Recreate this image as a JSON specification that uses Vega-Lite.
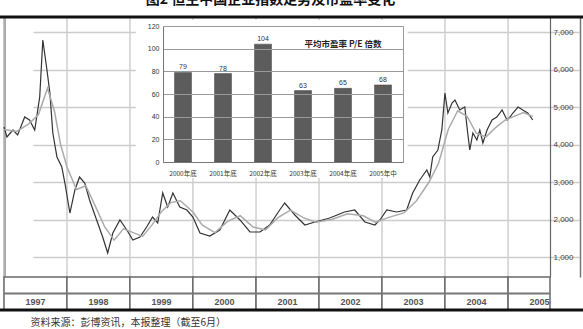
{
  "$schema": "https://vega.github.io/schema/vega-lite/v6.json",
  "width": 583,
  "height": 293,
  "autosize": {"type": "none"},
  "padding": {"left": 0, "top": 17, "right": 0, "bottom": 19},
  "background": "white",
  "config": {"view": {"stroke": null}, "font": "Liberation Sans", "axis": {"labelFont": "Liberation Sans"}},
  "datasets": {
    "index": [
      {"date": "1997-01-01", "value": 4467}, {"date": "1997-01-18", "value": 4200}, {"date": "1997-02-22", "value": 4387},
      {"date": "1997-03-21", "value": 4253}, {"date": "1997-05-01", "value": 4733}, {"date": "1997-05-29", "value": 4653},
      {"date": "1997-06-28", "value": 4387}, {"date": "1997-07-27", "value": 5267}, {"date": "1997-08-14", "value": 6787},
      {"date": "1997-09-07", "value": 5987}, {"date": "1997-09-24", "value": 5373}, {"date": "1997-10-11", "value": 4307},
      {"date": "1997-11-04", "value": 3667}, {"date": "1997-12-02", "value": 3400}, {"date": "1997-12-20", "value": 2973},
      {"date": "1998-01-18", "value": 2173}, {"date": "1998-02-16", "value": 2787}, {"date": "1998-03-15", "value": 3133},
      {"date": "1998-04-14", "value": 2973}, {"date": "1998-05-12", "value": 2520}, {"date": "1998-06-22", "value": 1987},
      {"date": "1998-07-27", "value": 1533}, {"date": "1998-08-25", "value": 1107}, {"date": "1998-09-24", "value": 1640},
      {"date": "1998-11-04", "value": 1987}, {"date": "1998-12-14", "value": 1720}, {"date": "1999-01-18", "value": 1453},
      {"date": "1999-02-28", "value": 1533}, {"date": "1999-04-08", "value": 1800}, {"date": "1999-05-12", "value": 2067},
      {"date": "1999-06-11", "value": 1907}, {"date": "1999-07-10", "value": 2707}, {"date": "1999-08-08", "value": 2333},
      {"date": "1999-09-07", "value": 2707}, {"date": "1999-10-17", "value": 2333}, {"date": "1999-11-27", "value": 2253},
      {"date": "2000-01-01", "value": 2067}, {"date": "2000-02-11", "value": 1640}, {"date": "2000-04-08", "value": 1560},
      {"date": "2000-06-05", "value": 1720}, {"date": "2000-08-02", "value": 2253}, {"date": "2000-09-30", "value": 1987},
      {"date": "2000-11-27", "value": 1667}, {"date": "2001-01-24", "value": 1667}, {"date": "2001-03-21", "value": 1853},
      {"date": "2001-05-18", "value": 2253}, {"date": "2001-06-16", "value": 2440}, {"date": "2001-08-14", "value": 2120},
      {"date": "2001-10-11", "value": 1853}, {"date": "2001-12-08", "value": 1933}, {"date": "2002-03-04", "value": 2040},
      {"date": "2002-05-29", "value": 2200}, {"date": "2002-07-27", "value": 2253}, {"date": "2002-09-24", "value": 1933},
      {"date": "2002-11-21", "value": 1853}, {"date": "2002-12-20", "value": 1987}, {"date": "2003-01-29", "value": 2253},
      {"date": "2003-03-27", "value": 2200}, {"date": "2003-05-24", "value": 2253}, {"date": "2003-06-28", "value": 2707},
      {"date": "2003-08-08", "value": 3053}, {"date": "2003-09-18", "value": 3320}, {"date": "2003-10-05", "value": 3133},
      {"date": "2003-10-22", "value": 3667}, {"date": "2003-11-21", "value": 3853}, {"date": "2003-12-14", "value": 4387},
      {"date": "2004-01-01", "value": 5373}, {"date": "2004-01-18", "value": 4840}, {"date": "2004-02-11", "value": 5107},
      {"date": "2004-02-28", "value": 5187}, {"date": "2004-03-27", "value": 4920}, {"date": "2004-04-25", "value": 5000},
      {"date": "2004-05-12", "value": 4307}, {"date": "2004-05-24", "value": 3853}, {"date": "2004-06-11", "value": 4307},
      {"date": "2004-07-04", "value": 4120}, {"date": "2004-07-21", "value": 4387}, {"date": "2004-08-08", "value": 4040},
      {"date": "2004-09-01", "value": 4387}, {"date": "2004-09-30", "value": 4653}, {"date": "2004-10-28", "value": 4733},
      {"date": "2004-11-27", "value": 4920}, {"date": "2004-12-26", "value": 4653}, {"date": "2005-01-12", "value": 4733},
      {"date": "2005-01-29", "value": 4840}, {"date": "2005-02-28", "value": 5000}, {"date": "2005-03-27", "value": 4920},
      {"date": "2005-04-25", "value": 4840}, {"date": "2005-05-24", "value": 4653}
    ],
    "ma": [
      {"date": "1997-01-01", "value": 4400}, {"date": "1997-03-15", "value": 4350}, {"date": "1997-05-25", "value": 4550},
      {"date": "1997-07-20", "value": 4800}, {"date": "1997-09-10", "value": 5500}, {"date": "1997-10-20", "value": 4900},
      {"date": "1997-11-25", "value": 4000}, {"date": "1998-01-01", "value": 3400}, {"date": "1998-02-25", "value": 2800},
      {"date": "1998-04-20", "value": 2900}, {"date": "1998-06-15", "value": 2350}, {"date": "1998-08-08", "value": 1800},
      {"date": "1998-10-01", "value": 1450}, {"date": "1998-11-25", "value": 1750}, {"date": "1999-01-20", "value": 1650},
      {"date": "1999-03-15", "value": 1550}, {"date": "1999-05-08", "value": 1850}, {"date": "1999-07-01", "value": 2200},
      {"date": "1999-08-25", "value": 2450}, {"date": "1999-10-20", "value": 2500}, {"date": "2000-01-01", "value": 2200},
      {"date": "2000-02-25", "value": 1850}, {"date": "2000-05-08", "value": 1650}, {"date": "2000-07-20", "value": 1950},
      {"date": "2000-10-01", "value": 2100}, {"date": "2000-12-15", "value": 1800}, {"date": "2001-02-25", "value": 1725},
      {"date": "2001-05-08", "value": 2050}, {"date": "2001-07-20", "value": 2250}, {"date": "2001-10-01", "value": 2050},
      {"date": "2001-12-15", "value": 1925}, {"date": "2002-03-15", "value": 2000}, {"date": "2002-06-15", "value": 2150},
      {"date": "2002-09-15", "value": 2100}, {"date": "2002-11-25", "value": 1925}, {"date": "2003-02-05", "value": 2050},
      {"date": "2003-05-08", "value": 2175}, {"date": "2003-07-20", "value": 2500}, {"date": "2003-10-01", "value": 3000},
      {"date": "2003-11-25", "value": 3500}, {"date": "2004-01-20", "value": 4400}, {"date": "2004-03-15", "value": 4900},
      {"date": "2004-05-08", "value": 4750}, {"date": "2004-07-01", "value": 4300}, {"date": "2004-08-25", "value": 4200},
      {"date": "2004-10-20", "value": 4450}, {"date": "2004-12-15", "value": 4650}, {"date": "2005-02-05", "value": 4750},
      {"date": "2005-03-30", "value": 4850}, {"date": "2005-05-24", "value": 4750}
    ],
    "years": [
      {"year": "1997", "start": "1997-01-01", "end": "1998-01-01"},
      {"year": "1998", "start": "1998-01-01", "end": "1999-01-01"},
      {"year": "1999", "start": "1999-01-01", "end": "2000-01-01"},
      {"year": "2000", "start": "2000-01-01", "end": "2001-01-01"},
      {"year": "2001", "start": "2001-01-01", "end": "2002-01-01"},
      {"year": "2002", "start": "2002-01-01", "end": "2003-01-01"},
      {"year": "2003", "start": "2003-01-01", "end": "2004-01-01"},
      {"year": "2004", "start": "2004-01-01", "end": "2005-01-01"},
      {"year": "2005", "start": "2005-01-01", "end": "2005-09-01"}
    ],
    "inset": [
      {"period": "2000年底", "value": 79},
      {"period": "2001年底", "value": 78},
      {"period": "2002年底", "value": 104},
      {"period": "2003年底", "value": 63},
      {"period": "2004年底", "value": 65},
      {"period": "2005年中", "value": 68}
    ]
  },
  "resolve": {"scale": {"x": "independent", "y": "independent"}, "axis": {"x": "independent", "y": "independent"}},
  "layer": [
    {
      "layer": [
        {
          "data": {"name": "years"},
          "mark": {"type": "rule", "color": "#cfcfcf", "strokeWidth": 1.5},
          "encoding": {
            "x": {"field": "start", "type": "temporal",
              "scale": {"domain": [{"year": 1997, "month": 1, "date": 1}, {"year": 2005, "month": 9, "date": 1}], "range": [4, 550], "nice": false},
              "axis": {"orient": "top", "labels": false, "ticks": false, "domain": false, "grid": false,
                "title": "图2  恒生中国企业指数走势及市盈率变化", "titleFont": "Noto Sans CJK SC", "titleFontSize": 14, "titleFontWeight": "bold",
                "titleColor": "#111", "titleX": 270, "titleY": -14, "titleAlign": "center", "titleBaseline": "alphabetic"}}
          }
        },
        {
          "data": {"name": "index"},
          "mark": {"type": "line", "color": "#333333", "strokeWidth": 1.2},
          "encoding": {
            "x": {"field": "date", "type": "temporal"},
            "y": {"field": "value", "type": "quantitative",
              "scale": {"domain": [466.67, 7400], "range": [260, 0], "nice": false, "zero": false},
              "axis": {"orient": "right", "offset": -33, "values": [1000, 2000, 3000, 4000, 5000, 6000, 7000], "format": ",.0f",
                "grid": true, "gridColor": "#cccccc", "gridWidth": 1.5, "ticks": false, "domain": true, "domainColor": "#666666", "domainWidth": 1.2,
                "labelPadding": 3, "labelFontSize": 8, "labelColor": "#444444", "title": null}}
          }
        },
        {
          "data": {"values": [{}]},
          "mark": {"type": "rect", "fill": "white"},
          "encoding": {
            "x": {"datum": {"year": 1999, "month": 2, "date": 4}, "type": "temporal"},
            "x2": {"datum": {"year": 2003, "month": 5, "date": 30}},
            "y": {"datum": 7320, "type": "quantitative"},
            "y2": {"datum": 3107}
          }
        }
      ]
    },
    {
      "data": {"values": [{}]},
      "mark": {"type": "rule", "color": "#111111", "strokeWidth": 3},
      "encoding": {
        "y": {"datum": 7400, "type": "quantitative",
          "scale": {"domain": [466.67, 7400], "range": [260, 0], "nice": false, "zero": false},
          "axis": {"orient": "left", "offset": -4, "labels": false, "ticks": false, "grid": false, "domain": true, "domainColor": "#555555", "domainWidth": 2, "title": null}}
      }
    },
    {
      "data": {"name": "ma"},
      "mark": {"type": "line", "color": "#ababab", "strokeWidth": 1.5},
      "encoding": {
        "x": {"field": "date", "type": "temporal",
          "scale": {"domain": [{"year": 1997, "month": 1, "date": 1}, {"year": 2005, "month": 9, "date": 1}], "range": [4, 550], "nice": false},
          "axis": null},
        "y": {"field": "value", "type": "quantitative",
          "scale": {"domain": [466.67, 7400], "range": [260, 0], "nice": false, "zero": false},
          "axis": {"orient": "right", "offset": -3, "labels": false, "ticks": false, "grid": false, "domain": true, "domainColor": "#777777", "domainWidth": 1.5, "title": null}}
      }
    },
    {
      "data": {"name": "years"},
      "layer": [
        {
          "mark": {"type": "rect", "fill": "white", "stroke": "#6a6a6a", "strokeWidth": 1.5},
          "encoding": {
            "x": {"field": "start", "type": "temporal",
              "scale": {"domain": [{"year": 1997, "month": 1, "date": 1}, {"year": 2005, "month": 9, "date": 1}], "range": [4, 550], "nice": false},
              "axis": {"orient": "bottom", "labels": false, "ticks": false, "domain": false, "grid": false,
                "title": "资料来源：彭博资讯，本报整理（截至6月）", "titleFont": "Noto Sans CJK SC", "titleFontSize": 10, "titleFontWeight": "normal",
                "titleColor": "#333333", "titleX": 30, "titleY": 12, "titleAlign": "left", "titleAnchor": "start", "titleBaseline": "middle"}},
            "x2": {"field": "end"},
            "y": {"datum": 0, "type": "quantitative", "scale": {"domain": [0, 2], "range": [293, 260], "nice": false, "zero": false}, "axis": null},
            "y2": {"datum": 2}
          }
        },
        {
          "data": {"values": [{}]},
          "mark": {"type": "rule", "color": "#777777", "strokeWidth": 2},
          "encoding": {
            "x": {"datum": {"year": 1997, "month": 1, "date": 1}, "type": "temporal"},
            "x2": {"datum": {"year": 2005, "month": 9, "date": 1}},
            "y": {"datum": 1, "type": "quantitative"}
          }
        },
        {
          "data": {"values": [{}]},
          "mark": {"type": "rule", "color": "#111111", "strokeWidth": 3},
          "encoding": {"y": {"datum": 0, "type": "quantitative"}}
        },
        {
          "mark": {"type": "text", "fontSize": 9, "fontWeight": "bold", "color": "#555555", "baseline": "middle"},
          "encoding": {
            "x": {"field": "start", "type": "temporal", "timeUnit": "year", "bandPosition": 0.5},
            "y": {"datum": 0.5, "type": "quantitative"},
            "text": {"field": "year"}
          }
        }
      ]
    },
    {
      "data": {"name": "inset"},
      "layer": [
        {
          "mark": {"type": "bar", "color": "#5c5c5c", "stroke": "#444444", "strokeWidth": 0.5},
          "encoding": {
            "x": {"field": "period", "type": "nominal", "sort": null,
              "scale": {"range": [163, 403], "paddingInner": 0.575, "paddingOuter": 0.2875},
              "axis": {"orient": "bottom", "offset": -148, "ticks": false, "domainColor": "#777777", "labelPadding": 8, "labelFontSize": 6.5,
                "labelFont": "Noto Sans CJK SC", "labelColor": "#333333", "labelAngle": 0, "title": null, "zindex": 1}},
            "y": {"field": "value", "type": "quantitative",
              "scale": {"domain": [0, 120], "range": [145, 9], "nice": false},
              "axis": {"orient": "left", "offset": -163, "values": [0, 20, 40, 60, 80, 100, 120], "grid": true, "gridColor": "#999999", "gridWidth": 1,
                "domainColor": "#777777", "ticks": false, "labelPadding": 4, "labelFontSize": 7, "labelColor": "#333333", "title": null, "zindex": 1}}
          }
        },
        {
          "data": {"values": [{}]},
          "mark": {"type": "text", "font": "Noto Sans CJK SC", "fontSize": 8.5, "fontWeight": "bold", "color": "#222222"},
          "encoding": {
            "x": {"datum": "2004年底", "type": "nominal"},
            "y": {"datum": 104, "type": "quantitative"},
            "text": {"value": "平均市盈率 P/E 倍数"}
          }
        }
      ]
    },
    {
      "data": {"name": "inset"},
      "mark": {"type": "text", "fontSize": 7, "color": "#333333", "baseline": "bottom", "dy": -2},
      "encoding": {
        "x": {"field": "period", "type": "nominal", "sort": null,
          "scale": {"range": [163, 403], "paddingInner": 0.575, "paddingOuter": 0.2875}, "axis": null},
        "y": {"field": "value", "type": "quantitative",
          "scale": {"domain": [0, 120], "range": [145, 9], "nice": false},
          "axis": {"orient": "right", "offset": -180, "labels": false, "ticks": false, "grid": false, "domainColor": "#999999", "title": null, "zindex": 1}},
        "text": {"field": "value"}
      }
    }
  ]
}
